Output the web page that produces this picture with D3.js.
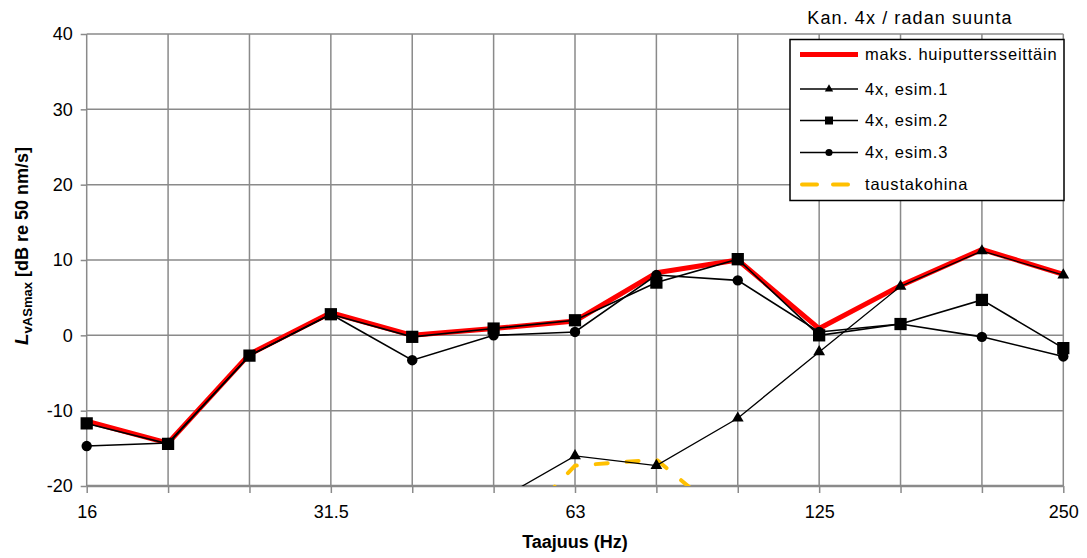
<!DOCTYPE html>
<html><head><meta charset="utf-8">
<script src="https://cdn.jsdelivr.net/npm/d3@7"></script>
<style>body{margin:0;background:#fff}svg{display:block;font-family:"Liberation Sans",Arial,sans-serif}</style>
</head><body><svg id="c" width="1087" height="558"></svg>
<script>
const categories = ["16","20","25","31.5","40","50","63","80","100","125","160","200","250"];
const tickLabels = ["16","","","31.5","","","63","","","125","","","250"];
const yTicks = [-20,-10,0,10,20,30,40];
const maksValues = [-11.4,-14.3,-2.5,3.0,0.0,0.9,1.9,8.3,10.0,0.9,6.6,11.4,8.1];
const esim1Values = [null,null,null,null,null,-22.2,-16.0,-17.3,-11.0,-2.2,6.5,11.2,8.0];
const esim2Values = [-11.7,-14.4,-2.7,2.8,-0.2,0.9,2.0,7.0,10.1,0.0,1.5,4.7,-1.7];
const esim3Values = [-14.7,-14.3,-2.7,2.8,-3.3,0.0,0.45,8.0,7.3,0.45,1.5,-0.2,-2.8];
const noiseValues = [null,null,null,null,null,-28.5,-17.3,-16.5,-25.5,null,null,null,null];
const legendLabels = ["maks. huiputtersseittäin","4x, esim.1","4x, esim.2","4x, esim.3","taustakohina"];
const legendTitle = "Kan. 4x / radan suunta";

const svg = d3.select("#c");
const L = 86.7, R = 1063.3, T = 34, B = 486;
const x = d3.scalePoint().domain(categories).range([L, R]);
const y = d3.scaleLinear().domain([-20, 40]).range([B, T]);

svg.append("defs").append("clipPath").attr("id","clip")
  .append("rect").attr("x", L-10).attr("y", T-10).attr("width", R-L+20).attr("height", B-T+10);

const grid = "#8a8a8a";
// horizontal gridlines
svg.append("g").selectAll("line").data(yTicks.filter(d=>d>-20)).join("line")
  .attr("x1", L).attr("x2", R).attr("y1", d=>y(d)).attr("y2", d=>y(d))
  .attr("stroke", grid).attr("stroke-width", 1.5);
// vertical gridlines
svg.append("g").selectAll("line").data(categories).join("line")
  .attr("x1", d=>x(d)).attr("x2", d=>x(d)).attr("y1", T).attr("y2", B)
  .attr("stroke", grid).attr("stroke-width", 1.5);

// y axis
const yAxis = d3.axisLeft(y).tickValues(yTicks).tickSize(6).tickPadding(8).tickFormat(d=>String(d));
const gy = svg.append("g").attr("transform", `translate(${L},0)`).call(yAxis);
gy.select(".domain").remove();
gy.selectAll(".tick line").attr("stroke", grid).attr("stroke-width", 1.5);
gy.selectAll(".tick text").attr("font-size", 18).attr("fill", "#000")
  .attr("font-family", '"Liberation Sans",Arial,sans-serif');

// x axis
const xAxis = d3.axisBottom(x).tickSize(7).tickPadding(12).tickFormat((d,i)=>tickLabels[i]);
const gx = svg.append("g").attr("transform", `translate(0,${B})`).call(xAxis);
gx.select(".domain").attr("stroke", grid).attr("stroke-width", 2.5).attr("d", `M${L},0H${R}`);
gx.selectAll(".tick line").attr("stroke", grid).attr("stroke-width", 1.5);
gx.selectAll(".tick text").attr("font-size", 18).attr("fill", "#000")
  .attr("font-family", '"Liberation Sans",Arial,sans-serif');

// titles
svg.append("text").attr("x", (L+R)/2).attr("y", 548).attr("text-anchor","middle")
  .attr("font-size", 18).attr("font-weight","bold").text("Taajuus (Hz)");
const yt = svg.append("text").attr("transform","translate(28,246) rotate(-90)")
  .attr("text-anchor","middle").attr("font-size", 18).attr("font-weight","bold");
yt.append("tspan").attr("font-style","italic").attr("font-size", 19).text("L");
yt.append("tspan").attr("font-size", 13).attr("dy", 4).text("vASmax");
yt.append("tspan").attr("dy", -4).text(" [dB re 50 nm/s]");

const line = d3.line().defined(d=>d.v!==null).x(d=>x(d.c)).y(d=>y(d.v));
const pts = vals => categories.map((c,i)=>({c, v: vals[i]}));
const plot = svg.append("g").attr("clip-path","url(#clip)");

// red max
plot.append("path").datum(pts(maksValues)).attr("d", line).attr("fill","none")
  .attr("stroke","#ff0000").attr("stroke-width",5).attr("stroke-linejoin","round");
// noise
plot.append("path").datum(pts(noiseValues)).attr("d", line).attr("fill","none")
  .attr("stroke","#ffc000").attr("stroke-width",4).attr("stroke-linecap","round")
  .attr("stroke-dasharray","12,19").attr("stroke-dashoffset", -14);

const sym = {tri: d3.symbolTriangle, sq: d3.symbolSquare, circ: d3.symbolCircle};
function series(vals, shape, size, w){
  const p = pts(vals);
  plot.append("path").datum(p).attr("d", line).attr("fill","none")
    .attr("stroke","#000").attr("stroke-width", w);
  plot.append("g").selectAll("path").data(p.filter(d=>d.v!==null)).join("path")
    .attr("transform", d=>`translate(${x(d.c)},${y(d.v)})`)
    .attr("d", d3.symbol().type(sym[shape]).size(size)).attr("fill","#000");
}
series(esim1Values, "tri", 60, 1.3);
series(esim2Values, "sq", 150, 1.6);
series(esim3Values, "circ", 85, 1.6);

// legend
svg.append("text").attr("x", 910).attr("y", 24).attr("text-anchor","middle")
  .attr("font-size", 18).attr("letter-spacing", 1.1).text(legendTitle);
const lg = svg.append("g");
lg.append("rect").attr("x", 790).attr("y", 39.5).attr("width", 274).attr("height", 161)
  .attr("fill","#fff").attr("stroke","#000").attr("stroke-width",1.5);
const rows = [54.5, 89, 120.5, 152.5, 184.5];
const lx1 = 800, lx2 = 858, lxm = 829;
lg.append("line").attr("x1",lx1).attr("x2",lx2).attr("y1",rows[0]).attr("y2",rows[0])
  .attr("stroke","#ff0000").attr("stroke-width",5);
[["tri",1,30],["sq",2,64],["circ",3,40]].forEach(([s,i,sz])=>{
  lg.append("line").attr("x1",lx1).attr("x2",lx2).attr("y1",rows[i]).attr("y2",rows[i])
    .attr("stroke","#000").attr("stroke-width", i===1?1.3:1.6);
  lg.append("path").attr("transform",`translate(${lxm},${rows[i]})`)
    .attr("d", d3.symbol().type(sym[s]).size(sz)).attr("fill","#000");
});
lg.append("line").attr("x1",lx1+2).attr("x2",lx2).attr("y1",rows[4]).attr("y2",rows[4])
  .attr("stroke","#ffc000").attr("stroke-width",4).attr("stroke-linecap","round")
  .attr("stroke-dasharray","15,16");
lg.selectAll("text.l").data(legendLabels).join("text").attr("class","l")
  .attr("x", 865).attr("y", (d,i)=>rows[i]).attr("dy","0.35em")
  .attr("font-size", 16.5).attr("letter-spacing", 0.8).text(d=>d);
</script></body></html>
